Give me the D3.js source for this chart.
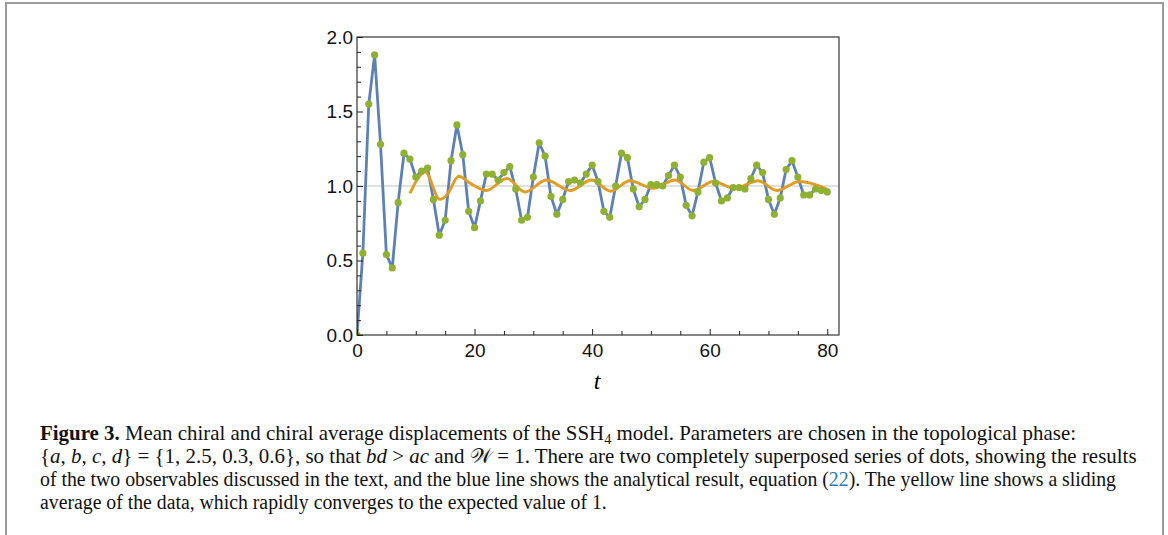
<!DOCTYPE html>
<html><head><meta charset="utf-8">
<script src="https://cdn.jsdelivr.net/npm/d3@7"></script>
<style>body{margin:0;background:#fff}</style>
</head><body>
<svg id="c" width="1168" height="535"></svg>
<script>
// ---- data ----
const values = [0.00,0.55,1.55,1.88,1.28,0.54,0.45,0.89,1.22,1.18,
  1.06,1.10,1.12,0.91,0.67,0.77,1.17,1.41,1.21,0.83,
  0.72,0.90,1.08,1.08,1.04,1.09,1.13,0.98,0.77,0.79,
  1.06,1.29,1.20,0.93,0.81,0.91,1.03,1.04,1.02,1.08,
  1.14,1.03,0.83,0.79,1.00,1.22,1.19,0.98,0.86,0.91,
  1.01,1.01,1.00,1.07,1.14,1.06,0.87,0.80,0.96,1.16,
  1.19,1.02,0.90,0.92,0.99,0.99,0.98,1.05,1.14,1.09,
  0.91,0.81,0.92,1.11,1.17,1.06,0.94,0.94,0.98,0.97,0.96];
const avgT = [9,10.2,11.6,14.1,15.3,17.3,19.2,22,25.5,28.6,32.2,36.3,39.9,43.2,46.4,50.4,54.1,57.2,60.6,64.2,68.3,71.4,75.3,80];
const avgV = [0.95,1.04,1.095,0.91,0.94,1.065,1.02,0.97,1.05,0.96,1.04,0.97,1.04,0.965,1.035,0.985,1.04,0.97,1.03,0.985,1.035,0.97,1.03,0.98];
const xMajor = [0,20,40,60,80];
const xMinor = [5,10,15,25,30,35,45,50,55,65,70,75];
const yMajor = [0.0,0.5,1.0,1.5,2.0];
const yMinor = [0.1,0.2,0.3,0.4,0.6,0.7,0.8,0.9,1.1,1.2,1.3,1.4,1.6,1.7,1.8,1.9];
const refLevel = 1;

const svg = d3.select('#c');
svg.append('rect').attr('width',1168).attr('height',535).attr('fill','#fff');
svg.append('rect').attr('x',6).attr('y',3).attr('width',1157).attr('height',560)
  .attr('fill','none').attr('stroke','#9a9a9a').attr('stroke-width',2);

const L=357, R=839, T=37, B=335;
const x = d3.scaleLinear().domain([0,82]).range([L,R]);
const y = d3.scaleLinear().domain([0,2]).range([B,T]);

const g = svg.append('g');
const clip = svg.append('clipPath').attr('id','pc');
clip.append('rect').attr('x',L).attr('y',T-4).attr('width',R-L).attr('height',B-T+4);

// reference line
g.append('line').attr('x1',L).attr('x2',R).attr('y1',y(refLevel)).attr('y2',y(refLevel))
  .attr('stroke','#c4c4c4').attr('stroke-width',1.2);

const pts = values.map((v,i)=>[i,v]);
const plot = g.append('g').attr('clip-path','url(#pc)');
plot.append('path').datum(pts)
  .attr('d', d3.line().x(d=>x(d[0])).y(d=>y(d[1])))
  .attr('fill','none').attr('stroke','#5e81b5').attr('stroke-width',2.8).attr('stroke-linejoin','round');

const avg = avgT.map((t,i)=>[t,avgV[i]]);
plot.append('path').datum(avg)
  .attr('d', d3.line().curve(d3.curveMonotoneX).x(d=>x(d[0])).y(d=>y(d[1])))
  .attr('fill','none').attr('stroke','#e19c24').attr('stroke-width',2.9);

plot.selectAll('circle').data(pts).join('circle')
  .attr('cx',d=>x(d[0])).attr('cy',d=>y(d[1])).attr('r',3.6).attr('fill','#8fb131');

// axes
const font = '"Liberation Sans", Arial, sans-serif';
function styleAxis(sel){
  sel.select('.domain').remove();
  sel.selectAll('line').attr('stroke','#222');
  sel.selectAll('text').attr('font-family',font).attr('font-size',19).attr('fill','#111');
}
svg.append('g').attr('transform',`translate(0,${B})`)
  .call(d3.axisBottom(x).tickValues(xMajor).tickSize(-6).tickPadding(9).tickFormat(d3.format('d'))).call(styleAxis);
svg.append('g').attr('transform',`translate(0,${B})`)
  .call(d3.axisBottom(x).tickValues(xMinor).tickSize(-4).tickFormat('')).call(styleAxis);
svg.append('g').attr('transform',`translate(${L},0)`)
  .call(d3.axisLeft(y).tickValues(yMajor).tickSize(-6).tickPadding(4).tickFormat(d3.format('.1f'))).call(styleAxis);
svg.append('g').attr('transform',`translate(${L},0)`)
  .call(d3.axisLeft(y).tickValues(yMinor).tickSize(-4).tickFormat('')).call(styleAxis);

// frame
svg.append('rect').attr('x',L).attr('y',T).attr('width',R-L).attr('height',B-T)
  .attr('fill','none').attr('stroke','#222').attr('stroke-width',1.1);

svg.append('text').attr('x',597).attr('y',389).attr('text-anchor','middle')
  .attr('font-family','"Liberation Serif", "DejaVu Serif", serif').attr('font-style','italic').attr('font-size',24)
  .text('t');

// caption
const serif = '"Liberation Serif", "Times New Roman", serif';
const lines = [
  {y:440, w:1037, parts:[{t:'Figure 3.',b:1},{t:' Mean chiral and chiral average displacements of the SSH'},{t:'4',sub:1},{t:' model. Parameters are chosen in the topological phase:'}]},
  {y:463, w:1097, parts:[{t:'{'},{t:'a',i:1},{t:', '},{t:'b',i:1},{t:', '},{t:'c',i:1},{t:', '},{t:'d',i:1},{t:'} = {1, 2.5, 0.3, 0.6}, so that '},{t:'bd',i:1},{t:' > '},{t:'ac',i:1},{t:' and '},{t:'𝒲',i:0},{t:' = 1. There are two completely superposed series of dots, showing the results'}]},
  {y:486, w:1077, parts:[{t:'of the two observables discussed in the text, and the blue line shows the analytical result, equation ('},{t:'22',link:1},{t:'). The yellow line shows a sliding'}]},
  {y:509, w:567, parts:[{t:'average of the data, which rapidly converges to the expected value of 1.'}]}
];
lines.forEach(ln=>{
  const tx = svg.append('text').attr('font-family',serif).attr('font-size',20.5).attr('fill','#111')
    .attr('transform',`translate(40,${ln.y})`);
  ln.parts.forEach(p=>{
    const s = tx.append('tspan').text(p.t);
    if(p.b) s.attr('font-weight','bold');
    if(p.i) s.attr('font-style','italic');
    if(p.link) s.attr('fill','#2b7bb9');
    if(p.sub){ s.attr('font-size',14).attr('dy',4); }
  });
  tx.selectAll('tspan').each(function(d,i){
    if(i>0 && ln.parts[i-1].sub) d3.select(this).attr('dy',-4);
  });
  const w = tx.node().getComputedTextLength();
  tx.attr('transform',`translate(40,${ln.y}) scale(${ln.w/w},1)`);
});
</script>
</body></html>
